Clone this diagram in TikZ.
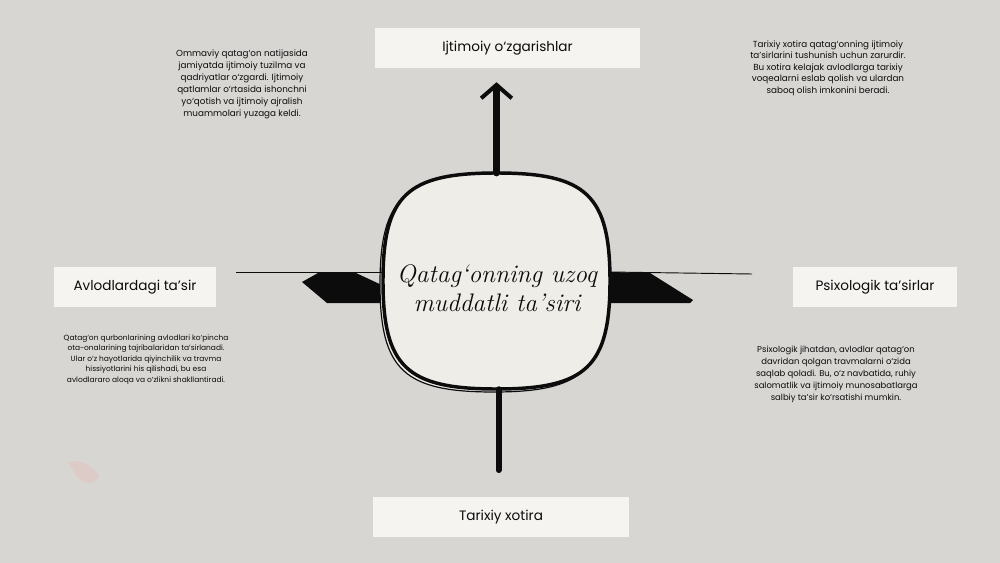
\documentclass[tikz,border=0pt]{standalone}
\usepackage{fontspec}
\setmainfont{Poppins}
\newfontfamily\handface{Latin Modern Roman}
\usetikzlibrary{arrows.meta}

\definecolor{paper}{RGB}{215,214,211}
\definecolor{slip}{RGB}{245,244,240}
\definecolor{disc}{RGB}{239,237,231}
\definecolor{ink}{RGB}{12,12,12}
\definecolor{smudge}{RGB}{226,196,192}

\begin{document}
\begin{tikzpicture}[x=0.75pt,y=0.75pt,yscale=-1,xscale=1,
    slip/.style={fill=slip, inner sep=0pt, text=ink, font=\fontsize{10.2}{12}\selectfont},
    note/.style={align=center, inner sep=0pt, text=ink},
    brush/.style={ink, line cap=round},
  ]
    %set diagram size to 1000 x 563
    \fill [paper] (0,0) rectangle (1000,563);
    \useasboundingbox (0,0) rectangle (1000,563);

    %Shape: paper smudge
    \fill [smudge, opacity=0.6] (68,462) .. controls (80,458) and (92,466) .. (99,476) .. controls (95,486) and (86,484) .. (78,478) -- cycle ;

    %Shape: Brush Stroke left
    \fill [ink] (302,282) -- (318,273) -- (356,273) -- (386,287) -- (386,303) -- (327,303) -- cycle ;
    %Shape: Brush Stroke right
    \fill [ink] (610,272) -- (650,273) -- (693,300) -- (690,303) -- (610,303) -- cycle ;

    %Shape: Rounded Square
    \node [minimum width=170pt, minimum height=162pt, inner sep=0pt] (core) at (496.5,281) {};
    \draw [ink, line width=0.9pt, fill=disc] (493.5,176) .. controls (583,176) and (607,198) .. (607,284) .. controls (607,370) and (583,392) .. (493.5,392) .. controls (404,392) and (380,370) .. (380,284) .. controls (380,198) and (404,176) .. (493.5,176) -- cycle ;
    \draw [ink, line width=2.6pt, fill=disc] (496.5,173) .. controls (586,173) and (610,195) .. (610,281) .. controls (610,367) and (586,389) .. (496.5,389) .. controls (407,389) and (383,367) .. (383,281) .. controls (383,195) and (407,173) .. (496.5,173) -- cycle ;

    % Text Node
    \node [inner sep=0pt, align=center, text=ink, font=\handface\itshape\fontsize{19}{21.5}\selectfont] (title) at (497,288) {Qatag‘onning uzoq\\muddatli ta’siri};

    % Label Nodes
    \node [slip, minimum width=199pt, minimum height=30pt] (social) at (507.5,48) {Ijtimoiy o‘zgarishlar};
    \node [slip, minimum width=192pt, minimum height=30pt] (memory) at (501,517) {Tarixiy xotira};
    \node [slip, minimum width=122pt, minimum height=30pt] (kin) at (135,287) {Avlodlardagi ta’sir};
    \node [slip, minimum width=123pt, minimum height=30pt] (psyche) at (875,287) {Psixologik ta’sirlar};

    %Straight Lines
    \draw [brush, line width=5.5pt, -{Straight Barb[length=10pt,width=23pt,line width=3pt]}, shorten >=10.5pt] (core.north) -- (core.north |- social.south) ;
    \draw [brush, line width=4.5pt, shorten >=20pt] ([xshift=1.5pt]core.south) -- ([xshift=1.5pt]core.south |- memory.north) ;
    \coordinate (wend) at (236,272) ;
    \coordinate (eend) at (752,274) ;
    \draw [ink, line width=0.7pt] ([yshift=-6.75pt]core.west) -- (wend) ;
    \draw [ink, line width=0.7pt] ([yshift=-6.75pt]core.east) -- (eend) ;

    % Text Node
    \node [note, font=\fontsize{6.6}{9}\selectfont] (noteA) at (242,84) {Ommaviy qatag‘on natijasida\\jamiyatda ijtimoiy tuzilma va\\qadriyatlar o‘zgardi. Ijtimoiy\\qatlamlar o‘rtasida ishonchni\\yo‘qotish va ijtimoiy ajralish\\muammolari yuzaga keldi.};
    % Text Node
    \node [note, font=\fontsize{6.6}{8.6}\selectfont] (noteB) at (828,68) {Tarixiy xotira qatag‘onning ijtimoiy\\ta’sirlarini tushunish uchun zarurdir.\\Bu xotira kelajak avlodlarga tarixiy\\voqealarni eslab qolish va ulardan\\saboq olish imkonini beradi.};
    % Text Node
    \node [note, font=\fontsize{5.6}{7.9}\selectfont] (noteC) at (146,359.5) {Qatag‘on qurbonlarining avlodlari ko‘pincha\\ota-onalarining tajribalaridan ta’sirlanadi.\\Ular o‘z hayotlarida qiyinchilik va travma\\hissiyotlarini his qilishadi, bu esa\\avlodlararo aloqa va o‘zlikni shakllantiradi.};
    % Text Node
    \node [note, font=\fontsize{6.35}{9}\selectfont] (noteD) at (836,374) {Psixologik jihatdan, avlodlar qatag‘on\\davridan qolgan travmalarni o‘zida\\saqlab qoladi. Bu, o‘z navbatida, ruhiy\\salomatlik va ijtimoiy munosabatlarga\\salbiy ta’sir ko‘rsatishi mumkin.};

\end{tikzpicture}
\end{document}
